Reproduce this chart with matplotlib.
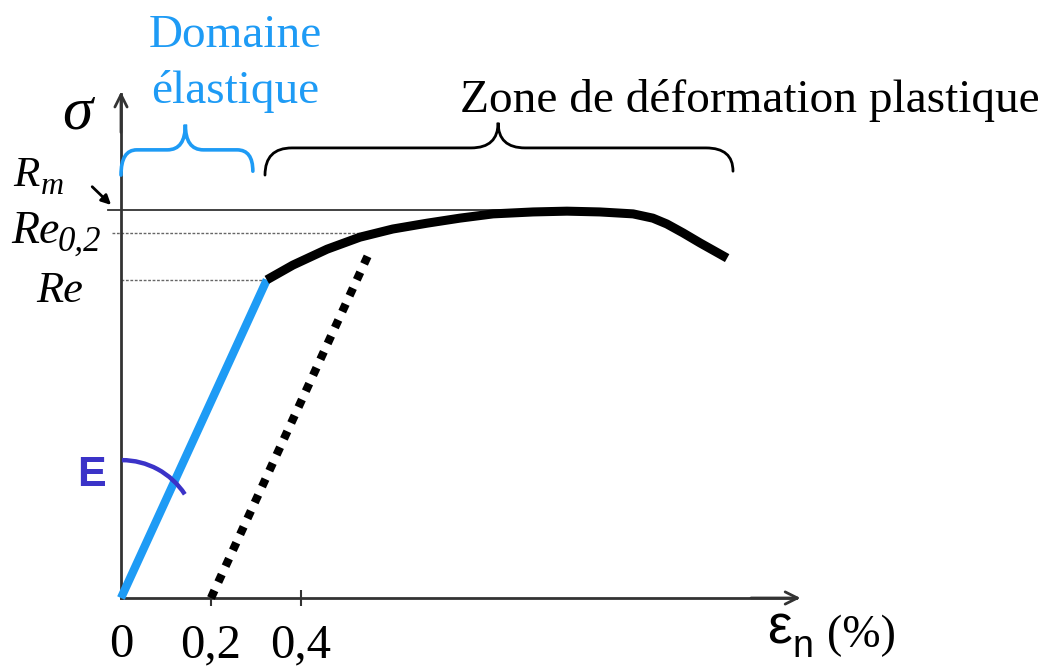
import numpy as np
import matplotlib
matplotlib.use("Agg")
import matplotlib.pyplot as plt
from matplotlib.path import Path
from matplotlib.patches import PathPatch, Arc

plt.rcParams['mathtext.fontset'] = 'custom'
plt.rcParams['mathtext.it'] = 'Liberation Serif:italic'
plt.rcParams['mathtext.rm'] = 'Liberation Serif'

# ---------------- data ----------------
Re = 0.82        # yield strength (relative to Rm)
Re02 = 0.94      # 0.2 % offset yield strength
Rm = 1.0         # tensile strength
eps_Re = 0.324   # strain at Re (%)
offset = 0.2     # offset for Re0,2 (%)
E_slope = Re / eps_Re

elastic_x = [0.0, eps_Re]
elastic_y = [0.0, Re]

plastic_x = [0.324, 0.382, 0.458, 0.531, 0.604, 0.680, 0.753, 0.827, 0.916,
             0.991, 1.064, 1.138, 1.182, 1.213, 1.249, 1.287, 1.347]
plastic_y = [0.820, 0.858, 0.899, 0.930, 0.951, 0.966, 0.979, 0.990, 0.995,
             0.997, 0.995, 0.990, 0.979, 0.964, 0.941, 0.915, 0.876]

offset_top_y = 0.90
offset_x = [offset, offset + offset_top_y / E_slope]
offset_y = [0.0, offset_top_y]

xticks = [0.0, 0.2, 0.4]
xticklabels = ['0', '0,2', '0,4']

W, H = 1050, 666
BLUE = '#1E9BF5'
EBLUE = '#3B33C8'
AX = '#333333'

fig = plt.figure(figsize=(W / 100, H / 100), dpi=100)
ax = fig.add_axes([0, 0, 1, 1])
ax.set_xlim(-121 / 450, 929 / 450)
ax.set_ylim(-68 / 388, 598 / 388)
ax.set_facecolor('white')

def P(x, y):
    return (x / W, 1 - y / H)

# axes spines at origin
for s in ['top', 'right']:
    ax.spines[s].set_visible(False)
ax.spines['left'].set_position(('data', 0))
ax.spines['bottom'].set_position(('data', 0))
ax.spines['left'].set_bounds(0, 1.30)
ax.spines['bottom'].set_bounds(0, 1.50)
for s in ['left', 'bottom']:
    ax.spines[s].set_color(AX)
    ax.spines[s].set_linewidth(2)
ax.set_yticks([])
ax.set_xticks(xticks)
ax.set_xticklabels(xticklabels, fontfamily='Liberation Serif', fontsize=35)
ax.tick_params(axis='x', direction='inout', length=12, width=1.5, color=AX, pad=12)
ax.xaxis.get_major_ticks()[0].tick1line.set_visible(False)

# arrow heads
ax.annotate('', xy=(1.51, 0), xytext=(1.40, 0),
            arrowprops=dict(arrowstyle='->', lw=2, color=AX, mutation_scale=22, shrinkA=0, shrinkB=0))
ax.annotate('', xy=(0, 1.305), xytext=(0, 1.2),
            arrowprops=dict(arrowstyle='->', lw=2, color=AX, mutation_scale=22, shrinkA=0, shrinkB=0))

# reference lines
ax.plot([-0.029, 0.97], [Rm, Rm], color='#333333', lw=1.3, zorder=2)
ax.plot([-0.02, 0.542], [Re02, Re02], color='#666666', lw=1.0, ls=(0, (2, 1.2)), zorder=2)
ax.plot([0.0, eps_Re], [Re, Re], color='#666666', lw=1.0, ls=(0, (2, 1.2)), zorder=2)

# curves
ax.plot(elastic_x, elastic_y, color=BLUE, lw=6, solid_capstyle='butt', zorder=4)
ax.plot(plastic_x, plastic_y, color='black', lw=6.5, solid_capstyle='butt',
        solid_joinstyle='round', zorder=5)
ax.plot(offset_x, offset_y, color='black', lw=6, ls=(0, (1, 1.1)), dash_capstyle='butt', zorder=3)

# Rm arrow
ax.annotate('', xy=(-0.022, 1.013), xytext=(-0.064, 1.06),
            arrowprops=dict(arrowstyle='-|>', lw=2, color='black', mutation_scale=14, shrinkA=0, shrinkB=0))

# E arc
ax.add_patch(Arc((0.002, 0.162), 2 * 75 / 450, 2 * 75 / 388, theta1=37, theta2=90,
                 color=EBLUE, lw=3.2, zorder=6))

# braces
def brace(x0, x1, xm, y_end0, y_end1, y_line, y_tip, r_end, r_tip, color, lw):
    verts = [(x0, y_end0), (x0, y_line), (x0 + r_end, y_line),
             (xm - r_tip, y_line), (xm, y_line), (xm, y_tip),
             (xm, y_line), (xm + r_tip, y_line),
             (x1 - r_end, y_line), (x1, y_line), (x1, y_end1)]
    codes = [Path.MOVETO, Path.CURVE3, Path.CURVE3,
             Path.LINETO, Path.CURVE3, Path.CURVE3,
             Path.CURVE3, Path.CURVE3,
             Path.LINETO, Path.CURVE3, Path.CURVE3]
    ax.add_patch(PathPatch(Path(verts, codes), fill=False, edgecolor=color, lw=lw,
                           capstyle='round', zorder=4))

brace(0.0, 0.293, 0.143, 1.09, 1.10, 1.155, 1.22, 0.035, 0.04, BLUE, 2.6)
brace(0.32, 1.36, 0.838, 1.09, 1.10, 1.16, 1.225, 0.06, 0.06, 'black', 2.0)

# texts
tkw = dict(transform=ax.transAxes)
ser_it = dict(family='Liberation Serif', style='italic', color='black', va='baseline', ha='left')
ax.text(*P(235, 47), 'Domaine', color=BLUE, fontsize=34, family='Liberation Serif',
        ha='center', va='baseline', **tkw)
ax.text(*P(235, 103), 'élastique', color=BLUE, fontsize=34, family='Liberation Serif',
        ha='center', va='baseline', **tkw)
ax.text(*P(750, 112), 'Zone de déformation plastique', color='black', fontsize=34,
        family='Liberation Serif', ha='center', va='baseline', **tkw)
ax.text(*P(79, 112), r'$\sigma$', color='black', fontsize=44, ha='center', va='center', **tkw)
ax.text(*P(13, 186), 'R', fontsize=31, **ser_it, **tkw)
ax.text(*P(41, 194), 'm', fontsize=23, **ser_it, **tkw)
ax.text(*P(11, 243), 'Re', fontsize=33, **ser_it, **tkw)
ax.text(*P(58, 251), '0,2', fontsize=25, **ser_it, **tkw)
ax.text(*P(36, 302), 'Re', fontsize=32, **ser_it, **tkw)
ax.text(*P(91, 486), 'E', color=EBLUE, fontsize=31, family='Liberation Sans', weight='bold',
        ha='center', va='baseline', **tkw)
ax.text(*P(767, 643), 'ε', color='black', fontsize=40, family='Liberation Sans',
        ha='left', va='baseline', **tkw)
ax.text(*P(792, 657), 'n', color='black', fontsize=27, family='Liberation Sans',
        ha='left', va='baseline', **tkw)
ax.text(*P(827, 647), '(%)', color='black', fontsize=33, family='Liberation Serif',
        ha='left', va='baseline', **tkw)

fig.savefig('out.png', dpi=100, facecolor='white')
